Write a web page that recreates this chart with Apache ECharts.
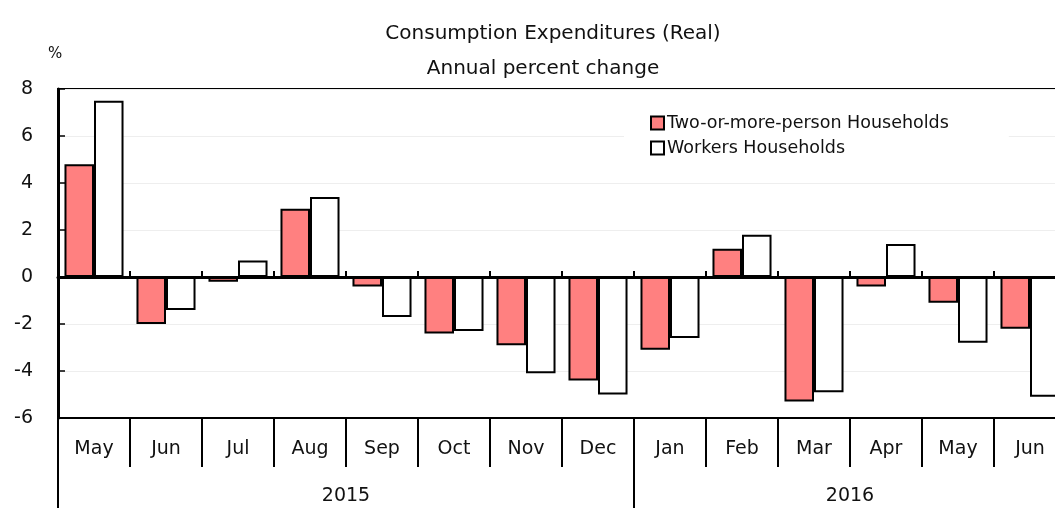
<!DOCTYPE html>
<html>
<head>
<meta charset="utf-8">
<script src="https://cdn.jsdelivr.net/npm/echarts@6/dist/echarts.min.js"></script>
<style>html,body{margin:0;padding:0;background:#fff}#c{width:1055px;height:508px}</style>
</head>
<body>
<div id="c"></div>
<script>
const months = ['May','Jun','Jul','Aug','Sep','Oct','Nov','Dec','Jan','Feb','Mar','Apr','May','Jun'];
const years = ['2015','2016'];
const yearSpans = [8, 6];
const twoOrMore = [4.8,-2.0,-0.2,2.9,-0.4,-2.4,-2.9,-4.4,-3.1,1.2,-5.3,-0.4,-1.1,-2.2];
const workers = [7.5,-1.4,0.7,3.4,-1.7,-2.3,-4.1,-5.0,-2.6,1.8,-4.9,1.4,-2.8,-5.1];
const seriesNames = ['Two-or-more-person Households','Workers Households'];

const FONT = 'DejaVu Sans';
const yearBounds = [0];
yearSpans.forEach(s => yearBounds.push(yearBounds[yearBounds.length-1] + s));
const yearCentres = yearSpans.map((s,i) => yearBounds[i] + s/2);

const chart = echarts.init(document.getElementById('c'));
chart.setOption({
  animation: false,
  textStyle: {fontFamily: FONT, color: '#111'},
  title: [
    {text: 'Consumption Expenditures (Real)', left: 548, top: 19, textAlign: 'center',
     textStyle: {fontFamily: FONT, fontSize: 20, fontWeight: 'normal', color: '#111'}},
    {text: 'Annual percent change', left: 538, top: 54, textAlign: 'center',
     textStyle: {fontFamily: FONT, fontSize: 20, fontWeight: 'normal', color: '#111'}},
    {text: '%', left: 43, top: 42,
     textStyle: {fontFamily: FONT, fontSize: 15, fontWeight: 'normal', color: '#111'}}
  ],
  legend: {
    orient: 'vertical', left: 624, top: 108, itemWidth: 13, itemHeight: 13, itemGap: 7,
    backgroundColor: '#fff', padding: [6, 60, 6, 26],
    textStyle: {fontFamily: FONT, fontSize: 17.5, color: '#111', padding: [0,0,0,-2]},
    data: seriesNames.map(n => ({name: n, icon: 'rect'}))
  },
  grid: {left: 58, top: 89, width: 1008, bottom: 90, outerBoundsMode: 'none', containLabel: false,
         show: true, borderColor: '#000', borderWidth: 2, backgroundColor: 'transparent'},
  xAxis: [
    {type: 'category', data: months, position: 'bottom',
     axisLine: {onZero: true, lineStyle: {color: '#000', width: 3}},
     axisTick: {show: true, inside: true, length: 6, interval: 0, lineStyle: {color: '#000', width: 2}},
     axisLabel: {show: false}, splitLine: {show: false}},
    {type: 'category', data: months, position: 'bottom',
     axisLine: {onZero: false, lineStyle: {color: '#000', width: 2}},
     axisTick: {show: true, length: 49, interval: 0, lineStyle: {color: '#000', width: 2}},
     axisLabel: {fontFamily: FONT, fontSize: 19, color: '#111', margin: 22, interval: 0},
     splitLine: {show: false}},
    {type: 'value', position: 'bottom', offset: 49, min: 0, max: months.length,
     axisLine: {show: false, onZero: false},
     axisTick: {show: true, length: 42, customValues: yearBounds, lineStyle: {color: '#000', width: 2}},
     axisLabel: {fontFamily: FONT, fontSize: 19, color: '#111', margin: 20, customValues: yearCentres,
       formatter: v => { const i = yearCentres.indexOf(v); return i >= 0 ? years[i] : ''; }},
     splitLine: {show: false}}
  ],
  yAxis: {
    type: 'value', min: -6, max: 8, interval: 2,
    axisLine: {show: true, lineStyle: {color: '#000', width: 3}},
    axisTick: {show: true, inside: true, length: 7, lineStyle: {color: '#000', width: 1.5}},
    axisLabel: {fontFamily: FONT, fontSize: 19, color: '#111', margin: 25},
    splitLine: {show: true, lineStyle: {color: '#eeeeee', width: 1}}
  },
  series: [
    {name: seriesNames[0], type: 'bar', data: twoOrMore, xAxisIndex: 0, barGap: '0%', barCategoryGap: '18%',
     itemStyle: {color: '#FF8080', borderColor: '#000', borderWidth: 2}},
    {name: seriesNames[1], type: 'bar', data: workers, xAxisIndex: 0, barGap: '0%', barCategoryGap: '18%',
     itemStyle: {color: '#ffffff', borderColor: '#000', borderWidth: 2}}
  ]
});
</script>
</body>
</html>
